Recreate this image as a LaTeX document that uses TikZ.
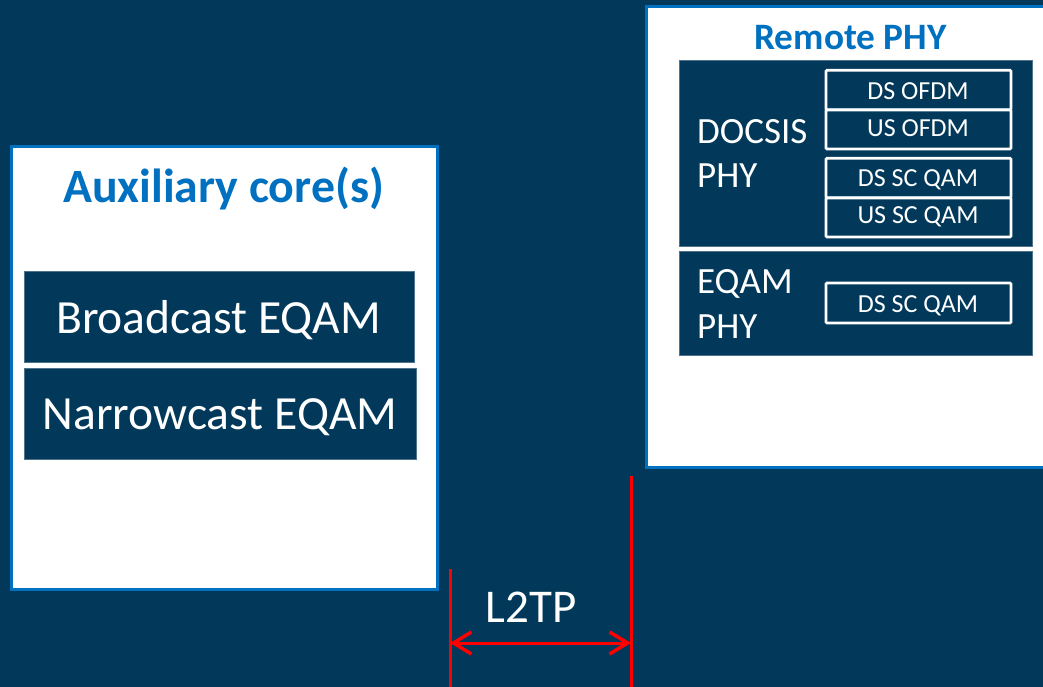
\documentclass[tikz,border=0pt]{standalone}
\usepackage{fontspec}
\setmainfont{Carlito}
\usetikzlibrary{arrows.meta}
\definecolor{navy}{RGB}{2,57,90}
\definecolor{bblue}{RGB}{0,112,192}
\definecolor{lred}{RGB}{255,0,0}
\tikzset{
  outerbox/.style={draw=bblue,fill=white,line width=3pt,rectangle,inner sep=0pt},
  darkbox/.style={draw=navy!70!white,fill=navy,line width=0.6pt,rectangle,inner sep=0pt},
  subbox/.style={draw=white,fill=navy,line width=2.8pt,rectangle,inner sep=0pt,rounded corners=1pt,minimum width=185pt},
  ttl/.style={text=bblue,font=\fontsize{47.8}{56}\selectfont\bfseries,anchor=base,inner sep=0pt},
  bigtxt/.style={text=white,font=\fontsize{47.6}{56}\selectfont,anchor=base,inner sep=0pt},
  midtxt/.style={text=white,font=\fontsize{37}{44}\selectfont,anchor=base west,inner sep=0pt},
  smtxt/.style={text=white,font=\fontsize{26}{30}\selectfont,anchor=base,inner sep=0pt},
  redline/.style={draw=lred,line width=3pt},
}
\begin{document}
\begin{tikzpicture}[x=1pt,y=-1pt]
\useasboundingbox (0,0) rectangle (1043,687);
\fill[navy] (0,0) rectangle (1043,687);
% Auxiliary core(s)
\node[outerbox,minimum width=426pt,minimum height=442pt] (aux) at (224,368) {};
\node[ttl] (auxt) at (223.5,202) {Auxiliary core(s)};
\node[darkbox,minimum width=390pt,minimum height=91pt] (bc) at (219,316.5) {};
\node[bigtxt] (bct) at (218.5,333) {Broadcast EQAM};
\node[darkbox,minimum width=392pt,minimum height=91pt] (nc) at (220,413.5) {};
\node[bigtxt] (nct) at (220,429) {Narrowcast EQAM};
% Remote PHY
\node[outerbox,minimum width=402pt,minimum height=460pt] (rp) at (847,237) {};
\node[ttl,font=\fontsize{37.3}{44}\selectfont\bfseries] (rpt) at (850.5,50) {Remote PHY};
\node[darkbox,minimum width=353pt,minimum height=186pt] (doc) at (855.5,153) {};
\node[midtxt] (doct1) at (697,144) {DOCSIS};
\node[midtxt] (doct2) at (697,188) {PHY};
\node[subbox,minimum height=39.5pt] (dsofdm) at (918.5,90) {};
\node[subbox,minimum height=39pt] (usofdm) at (918.5,129.5) {};
\node[smtxt] at (918,100) {DS OFDM};
\node[smtxt] at (918,137) {US OFDM};
\node[subbox,minimum height=39.5pt] (dsqam) at (918.5,178) {};
\node[subbox,minimum height=39pt] (usqam) at (918.5,217.5) {};
\node[smtxt] at (918,186) {DS SC QAM};
\node[smtxt] at (918,223) {US SC QAM};
\node[darkbox,minimum width=353pt,minimum height=104pt] (eq) at (855.5,303) {};
\node[midtxt] (eqt1) at (697,293) {EQAM};
\node[midtxt] (eqt2) at (697,338) {PHY};
\node[subbox,minimum height=40pt] (eqqam) at (918.5,303) {};
\node[smtxt] at (918,312) {DS SC QAM};
% L2TP
\coordinate (ltop) at (450,569);
\coordinate (lbot) at (450,690);
\coordinate (rtop) at (631,476);
\coordinate (rbot) at (631,690);
\coordinate (la) at (450,643);
\coordinate (ra) at (631,643);
\draw[redline] (ltop) -- (lbot);
\draw[redline] (rtop) -- (rbot);
\draw[redline,{Straight Barb[length=18pt,width=22pt,line width=3.5pt]}-{Straight Barb[length=18pt,width=22pt,line width=3.5pt]}] (la) -- (ra);
\node[bigtxt,font=\fontsize{47}{54}\selectfont] (l2tp) at (531,622) {L2TP};
\end{tikzpicture}
\end{document}
